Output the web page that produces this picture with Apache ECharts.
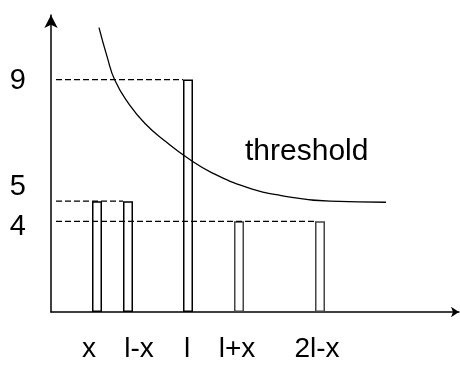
<!DOCTYPE html>
<html>
<head>
<meta charset="utf-8">
<script src="https://cdn.jsdelivr.net/npm/echarts@6/dist/echarts.min.js"></script>
<style>
  html, body { margin: 0; padding: 0; background: #fff; }
  #chart { width: 460px; height: 367px; }
</style>
</head>
<body>
<div id="chart"></div>
<script>
// bars: centre along x (px from the y axis) and drawn height (the tall bar = 9 units)
const barX = [46, 77, 137, 188, 269]
const barHeight = [4.29, 4.29, 9, 3.51, 3.51]
const barBorder = ['#000', '#000', '#000', '#444', '#444']

const xLabels = ['x', 'l-x', 'l', 'l+x', '2l-x']
const xLabelPos = [38, 88, 136, 186, 266]
const yLabels = ['9', '5', '4']
const yLabelPos = [8.96, 4.83, 3.28]

// dashed guides: level, and the bar where each one stops
const guideLevel = [9, 4.29, 3.51]
const guideEndBar = [2, 1, 4]
const guideStart = 5
const barW = 10

// threshold curve
const curveX = [48, 56, 64, 78, 94, 114, 137, 162, 196, 229, 279, 335]
const curveY = [11.01, 9.9, 8.96, 8.05, 7.30, 6.62, 5.95, 5.37, 4.83, 4.52, 4.29, 4.25]

const font = 'Liberation Sans'
const chart = echarts.init(document.getElementById('chart'))

const guideSeries = guideLevel.map((lvl, i) => ({
  type: 'line',
  data: [[guideStart, lvl], [barX[guideEndBar[i]] - barW / 2, lvl]],
  symbol: 'none',
  silent: true,
  z: 3,
  lineStyle: { color: '#000', width: 1.2, type: [6, 3] }
}))

chart.setOption({
  animation: false,
  grid: { left: 51, right: 1, top: 15, bottom: 55 },
  xAxis: {
    type: 'value',
    min: 0,
    max: 408,
    splitLine: { show: false },
    axisTick: { show: false },
    axisLine: {
      lineStyle: { color: '#000', width: 1.5 },
      symbol: ['none', 'arrow'],
      symbolSize: [8, 8]
    },
    axisLabel: {
      customValues: xLabelPos,
      formatter: v => xLabels[xLabelPos.indexOf(v)],
      color: '#000',
      fontSize: 28,
      fontFamily: font,
      margin: 23
    }
  },
  yAxis: {
    type: 'value',
    min: 0,
    max: 11.5,
    splitLine: { show: false },
    axisTick: { show: false },
    axisLine: {
      lineStyle: { color: '#000', width: 1.5 },
      symbol: ['none', 'arrow'],
      symbolSize: [10, 13]
    },
    axisLabel: {
      customValues: yLabelPos,
      formatter: v => yLabels[yLabelPos.indexOf(v)],
      color: '#000',
      fontSize: 29,
      fontFamily: font,
      margin: 25
    }
  },
  graphic: [{
    type: 'text',
    left: 245,
    top: 137,
    style: { text: 'threshold', fontSize: 30, fontFamily: font, fill: '#000' }
  }],
  series: [
    {
      type: 'bar',
      barWidth: barW,
      data: barX.map((x, i) => ({
        value: [x, barHeight[i]],
        itemStyle: { borderColor: barBorder[i] }
      })),
      itemStyle: { color: '#fff', borderWidth: 1.5 }
    },
    ...guideSeries,
    {
      type: 'line',
      data: curveX.map((x, i) => [x, curveY[i]]),
      smooth: true,
      symbol: 'none',
      lineStyle: { color: '#000', width: 1.3 }
    }
  ]
})
</script>
</body>
</html>
